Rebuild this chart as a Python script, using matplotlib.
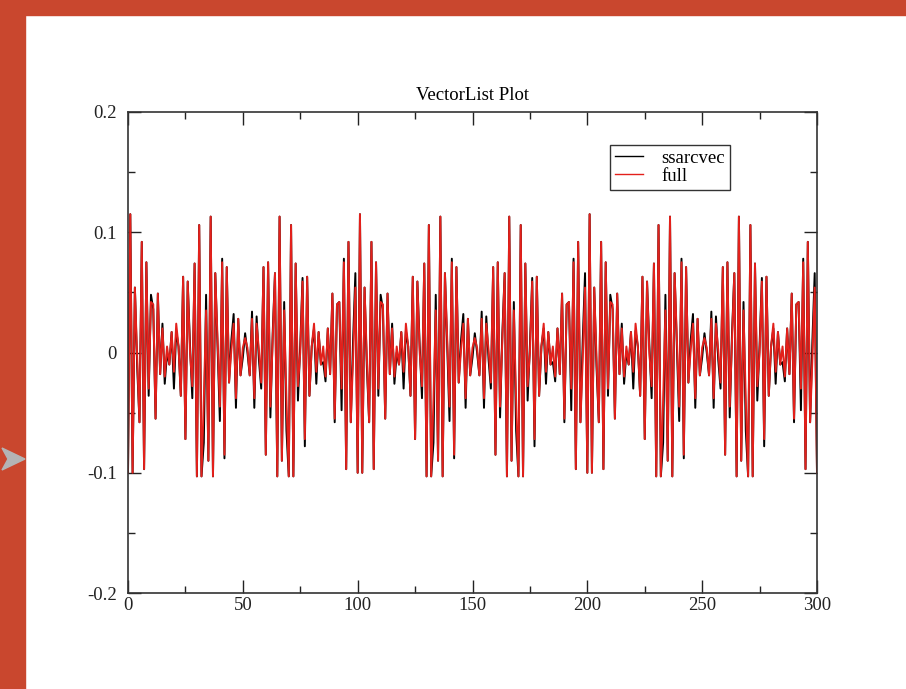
import numpy as np
import matplotlib.pyplot as plt
from matplotlib.patches import Rectangle, Polygon

plt.rcParams['font.family'] = ['Liberation Serif', 'DejaVu Serif']

#%%
# data (one value per index 0..300)
full = [
    -0.100, 0.115, -0.100, 0.054, -0.005, -0.058, 0.092, -0.097, 0.075, -0.030,
    0.042, 0.040, -0.055, 0.049, -0.018, 0.020, -0.020, 0.005, -0.010, 0.017,
    -0.016, 0.024, 0.005, -0.036, 0.063, -0.072, 0.059, 0.000, -0.028, 0.074,
    -0.103, 0.106, -0.103, -0.040, 0.035, -0.090, 0.113, -0.103, 0.066, 0.010,
    -0.045, 0.075, -0.085, 0.071, -0.025, 0.002, 0.024, -0.038, 0.028, -0.019,
    0.004, 0.012, 0.004, -0.019, 0.028, -0.038, 0.024, 0.002, -0.025, 0.071,
    -0.085, 0.075, -0.045, 0.010, 0.066, -0.103, 0.113, -0.090, 0.035, -0.040,
    -0.103, 0.106, -0.103, 0.074, -0.028, 0.000, 0.059, -0.072, 0.063, -0.036,
    0.005, 0.024, -0.016, 0.017, -0.010, 0.005, -0.020, 0.020, -0.018, 0.049,
    -0.055, 0.040, 0.042, -0.030, 0.075, -0.097, 0.092, -0.058, -0.005, 0.054,
    -0.100, 0.115, -0.100, 0.054, -0.005, -0.058, 0.092, -0.097, 0.075, -0.030,
    0.042, 0.040, -0.055, 0.049, -0.018, 0.020, -0.020, 0.005, -0.010, 0.017,
    -0.016, 0.024, 0.005, -0.036, 0.063, -0.072, 0.059, 0.000, -0.028, 0.074,
    -0.103, 0.106, -0.103, -0.040, 0.035, -0.090, 0.113, -0.103, 0.066, 0.010,
    -0.045, 0.075, -0.085, 0.071, -0.025, 0.002, 0.024, -0.038, 0.028, -0.019,
    0.004, 0.012, 0.004, -0.019, 0.028, -0.038, 0.024, 0.002, -0.025, 0.071,
    -0.085, 0.075, -0.045, 0.010, 0.066, -0.103, 0.113, -0.090, 0.035, -0.040,
    -0.103, 0.106, -0.103, 0.074, -0.028, 0.000, 0.059, -0.072, 0.063, -0.036,
    0.005, 0.024, -0.016, 0.017, -0.010, 0.005, -0.020, 0.020, -0.018, 0.049,
    -0.055, 0.040, 0.042, -0.030, 0.075, -0.097, 0.092, -0.058, -0.005, 0.054,
    -0.100, 0.115, -0.100, 0.054, -0.005, -0.058, 0.092, -0.097, 0.075, -0.030,
    0.042, 0.040, -0.055, 0.049, -0.018, 0.020, -0.020, 0.005, -0.010, 0.017,
    -0.016, 0.024, 0.005, -0.036, 0.063, -0.072, 0.059, 0.000, -0.028, 0.074,
    -0.103, 0.106, -0.103, -0.040, 0.035, -0.090, 0.113, -0.103, 0.066, 0.010,
    -0.045, 0.075, -0.085, 0.071, -0.025, 0.002, 0.024, -0.038, 0.028, -0.019,
    0.004, 0.012, 0.004, -0.019, 0.028, -0.038, 0.024, 0.002, -0.025, 0.071,
    -0.085, 0.075, -0.045, 0.010, 0.066, -0.103, 0.113, -0.090, 0.035, -0.040,
    -0.103, 0.106, -0.103, 0.074, -0.028, 0.000, 0.059, -0.072, 0.063, -0.036,
    0.005, 0.024, -0.016, 0.017, -0.010, 0.005, -0.020, 0.020, -0.018, 0.049,
    -0.055, 0.040, 0.042, -0.030, 0.075, -0.097, 0.092, -0.058, -0.005, 0.054,
    -0.100,
]

ssarcvec = [
    -0.100, 0.115, -0.100, 0.054, -0.012, -0.058, 0.092, -0.097, 0.075, -0.036,
    0.048, 0.036, -0.055, 0.049, -0.018, 0.024, -0.026, 0.000, -0.010, 0.017,
    -0.030, 0.018, 0.005, -0.036, 0.063, -0.072, 0.059, 0.006, -0.038, 0.074,
    -0.103, 0.106, -0.103, -0.075, 0.048, -0.090, 0.113, -0.103, 0.066, 0.004,
    -0.057, 0.078, -0.088, 0.071, -0.025, 0.010, 0.032, -0.046, 0.028, -0.019,
    -0.004, 0.016, 0.000, -0.019, 0.034, -0.046, 0.030, -0.006, -0.030, 0.071,
    -0.085, 0.075, -0.054, 0.016, 0.066, -0.103, 0.113, -0.090, 0.042, -0.065,
    -0.103, 0.106, -0.103, 0.074, -0.040, 0.006, 0.062, -0.078, 0.063, -0.036,
    0.005, 0.020, -0.026, 0.017, -0.010, -0.008, -0.024, 0.020, -0.018, 0.049,
    -0.058, 0.040, 0.042, -0.048, 0.078, -0.097, 0.092, -0.058, 0.010, 0.066,
    -0.100, 0.115, -0.100, 0.054, -0.012, -0.058, 0.092, -0.097, 0.075, -0.036,
    0.048, 0.036, -0.055, 0.049, -0.018, 0.024, -0.026, 0.000, -0.010, 0.017,
    -0.030, 0.018, 0.005, -0.036, 0.063, -0.072, 0.059, 0.006, -0.038, 0.074,
    -0.103, 0.106, -0.103, -0.075, 0.048, -0.090, 0.113, -0.103, 0.066, 0.004,
    -0.057, 0.078, -0.088, 0.071, -0.025, 0.010, 0.032, -0.046, 0.028, -0.019,
    -0.004, 0.016, 0.000, -0.019, 0.034, -0.046, 0.030, -0.006, -0.030, 0.071,
    -0.085, 0.075, -0.054, 0.016, 0.066, -0.103, 0.113, -0.090, 0.042, -0.065,
    -0.103, 0.106, -0.103, 0.074, -0.040, 0.006, 0.062, -0.078, 0.063, -0.036,
    0.005, 0.020, -0.026, 0.017, -0.010, -0.008, -0.024, 0.020, -0.018, 0.049,
    -0.058, 0.040, 0.042, -0.048, 0.078, -0.097, 0.092, -0.058, 0.010, 0.066,
    -0.100, 0.115, -0.100, 0.054, -0.012, -0.058, 0.092, -0.097, 0.075, -0.036,
    0.048, 0.036, -0.055, 0.049, -0.018, 0.024, -0.026, 0.000, -0.010, 0.017,
    -0.030, 0.018, 0.005, -0.036, 0.063, -0.072, 0.059, 0.006, -0.038, 0.074,
    -0.103, 0.106, -0.103, -0.075, 0.048, -0.090, 0.113, -0.103, 0.066, 0.004,
    -0.057, 0.078, -0.088, 0.071, -0.025, 0.010, 0.032, -0.046, 0.028, -0.019,
    -0.004, 0.016, 0.000, -0.019, 0.034, -0.046, 0.030, -0.006, -0.030, 0.071,
    -0.085, 0.075, -0.054, 0.016, 0.066, -0.103, 0.113, -0.090, 0.042, -0.065,
    -0.103, 0.106, -0.103, 0.074, -0.040, 0.006, 0.062, -0.078, 0.063, -0.036,
    0.005, 0.020, -0.026, 0.017, -0.010, -0.008, -0.024, 0.020, -0.018, 0.049,
    -0.058, 0.040, 0.042, -0.048, 0.078, -0.097, 0.092, -0.058, 0.010, 0.066,
    -0.100,
]

xticks = [0, 50, 100, 150, 200, 250, 300]
yticks = [-0.2, -0.1, 0, 0.1, 0.2]
ytick_labels = ['-0.2', '-0.1', '0', '0.1', '0.2']

#%%
W, H = 906, 689
fig = plt.figure(figsize=(W / 100, H / 100), dpi=100)
fig.patch.set_facecolor('white')

# red slide background showing at top and left
bg = '#c9472e'
fig.patches.append(Rectangle((0, 1 - 15 / H), 1, 15 / H, transform=fig.transFigure,
                             color=bg, zorder=0))
fig.patches.append(Rectangle((0, 0), 25 / W, 1, transform=fig.transFigure,
                             color=bg, zorder=0))
# grey arrow on the left edge
arrow = [(2, 448), (25, 459), (2, 470), (8, 459)]
fig.patches.append(Polygon([(px / W, 1 - py / H) for px, py in arrow], closed=True,
                           transform=fig.transFigure, color='#b4b4b4', zorder=1))

ax = fig.add_axes([128 / W, 1 - 593 / H, (817 - 128) / W, (593 - 112) / H])

x = np.arange(len(full))
ax.plot(x, ssarcvec, color='black', lw=1.4, label='ssarcvec')
ax.plot(x, full, color='#e3201b', lw=1.4, label='full')

ax.set_xlim(0, 300)
ax.set_ylim(-0.2, 0.2)
ax.set_xticks(xticks)
ax.set_xticklabels([str(t) for t in xticks])
ax.set_xticks(np.arange(25, 300, 50), minor=True)
ax.set_yticks(yticks)
ax.set_yticklabels(ytick_labels)
ax.set_yticks([-0.15, -0.05, 0.05, 0.15], minor=True)

ax.tick_params(which='both', direction='in', top=True, right=True, width=1,
               labelsize=13.5, colors='#222222')
ax.tick_params(which='major', length=9.5)
ax.tick_params(which='minor', length=5)
ax.tick_params(axis='x', pad=3)
ax.tick_params(axis='y', pad=8)
for s in ax.spines.values():
    s.set_linewidth(1.2)
    s.set_color('#333333')

ax.set_title('VectorList Plot', fontsize=13.5, pad=9)

leg = ax.legend(loc='upper left', bbox_to_anchor=(610 / W, 1 - 145 / H),
                bbox_transform=fig.transFigure, fontsize=13.5, frameon=True,
                fancybox=False, framealpha=1, edgecolor='#333333',
                handlelength=1.5, handletextpad=1.0, labelspacing=0.05,
                borderpad=0.25, borderaxespad=0)
leg.get_frame().set_linewidth(1)
for line in leg.get_lines():
    line.set_linewidth(1)

fig.savefig('out.png', dpi=100)
